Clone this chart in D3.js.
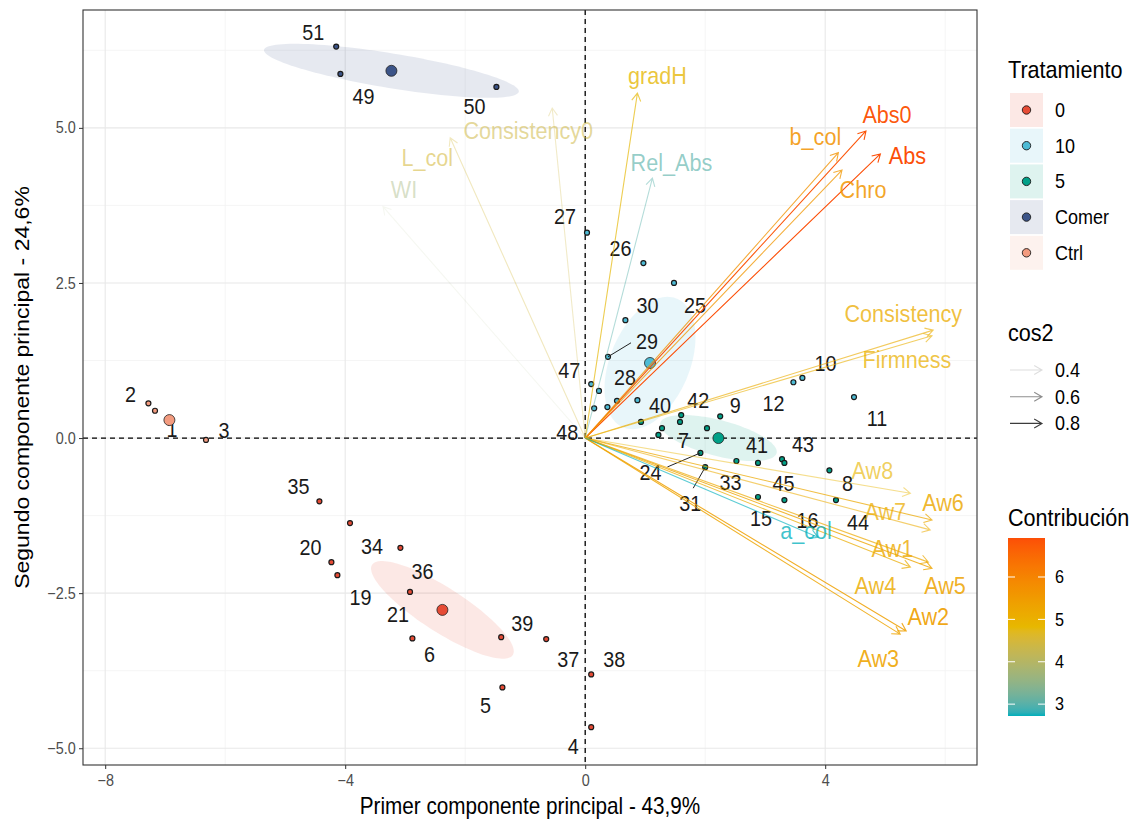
<!DOCTYPE html>
<html>
<head>
<meta charset="utf-8">
<script src="https://cdn.jsdelivr.net/npm/d3@7"></script>
<style>
  body { margin: 0; background: #fff; }
  text { font-family: "Liberation Sans", Arial, sans-serif; }
</style>
</head>
<body>
<svg id="chart" width="1145" height="822"></svg>
<script>
// ---------- data ----------
const groups      = ["0", "10", "5", "Comer", "Ctrl"];
const groupColors = ["#E64B35", "#4DBBD5", "#00A087", "#3C5488", "#F39B7F"];

// individuals: id, coordinates on PC1 / PC2, treatment
const indIds   = [1,2,3,4,5,6,7,8,9,10,11,12,13,14,15,16,17,18,19,20,21,22,23,24,25,26,27,28,29,30,31,32,33,34,35,36,37,38,39,40,41,42,43,44,45,46,47,48,49,50,51];
const indPC1   = [-7.17,-7.28,-6.32,0.10,-1.38,-2.88,1.22,4.07,2.25,3.62,4.48,3.47,0.23,0.37,2.88,3.32,0.87,1.28,-4.13,-4.23,-2.92,1.58,2.03,1.92,1.48,0.97,0.03,0.53,0.38,0.67,2.00,2.22,2.52,-3.92,-4.43,-3.08,-0.65,0.10,-1.40,0.93,2.88,1.60,3.28,4.18,3.32,1.08,0.10,0.15,-4.08,-1.48,-4.15];
const indPC2   = [0.44,0.56,-0.03,-4.66,-4.02,-3.23,0.05,-0.52,0.35,0.97,0.66,0.90,0.76,0.50,-0.95,-1.00,0.61,0.16,-2.21,-2.00,-2.48,0.26,0.16,-0.24,2.50,2.82,3.31,0.60,1.31,1.90,-0.47,0.00,-0.37,-1.37,-1.02,-1.77,-3.24,-3.81,-3.21,0.26,-0.40,0.37,-0.34,-1.00,-0.40,1.21,0.87,0.48,5.87,5.66,6.31];
const indGroup = ["Ctrl","Ctrl","Ctrl","0","0","0","5","5","5","10","10","10","10","10","5","5","10","5","0","0","0","5","5","5","10","10","10","10","10","10","5","5","5","0","0","0","0","0","0","5","5","5","5","5","5","10","10","10","Comer","Comer","Comer"];

// group centres (mean points) on PC1 / PC2
const centerPC1 = [-2.38, 1.08, 2.22, -3.23, -6.93];
const centerPC2 = [-2.77, 1.21, 0.00, 5.92, 0.29];
// concentration ellipses: semi-axes (PC units) and rotation (degrees)
const ellipseA     = [1.38, 1.13, 1.00, 2.15, 0];
const ellipseB     = [0.36, 0.66, 0.29, 0.28, 0];
const ellipseAngle = [-31.7, 66, -14, -9, 0];

// variables
const varNames   = ["Abs0","Abs","b_col","Chro","Consistency","Firmness","Aw8","Aw6","Aw7","Aw1","Aw5","Aw4","Aw2","Aw3","a_col","Rel_Abs","gradH","Consistency0","L_col","WI"];
const varPC1     = [4.68,4.92,4.22,4.28,5.80,5.78,5.42,5.78,5.75,5.72,5.78,5.42,5.35,5.25,3.88,1.12,0.87,-0.55,-2.25,-3.37];
const varPC2     = [4.95,4.58,4.60,4.32,1.74,1.65,-0.89,-1.32,-1.48,-2.00,-2.10,-2.08,-3.11,-3.16,-1.60,4.19,5.56,5.32,4.84,3.73];
const varContrib = [6.85,6.92,5.7,5.6,5.1,5.0,4.9,5.2,5.1,5.2,5.3,5.1,5.4,5.3,2.72,3.0,4.8,4.4,4.5,3.7];
const varCos2    = [0.94,0.95,0.81,0.80,0.72,0.70,0.60,0.78,0.68,0.76,0.82,0.78,0.86,0.84,0.72,0.60,0.76,0.50,0.52,0.38];

// axis ticks
const xTicks = [-8, -4, 0, 4];
const yTicks = [-5, -2.5, 0, 2.5, 5];
const xMinor = [-6, -2, 2, 6];
const yMinor = [-3.75, -1.25, 1.25, 3.75, 6.25];
const cos2Breaks = [0.4, 0.6, 0.8];
const contribBreaks = [3, 4, 5, 6];

// ---------- label placement (pixel offsets from the mark) ----------
const indLabelNudge = {
  1:[17,19], 2:[-18,-9], 3:[18,-10], 4:[-18,19], 5:[-17,18], 6:[17,16],
  7:[25,5], 8:[18,13], 9:[15,-11], 10:[23,-15], 11:[23,21], 12:[-20,21],
  15:[3,21], 16:[23,20], 19:[23,22], 20:[-21,-15], 21:[-12,22],
  24:[-50,19,-33,14], 25:[21,22], 26:[-23,-15], 27:[-22,-16], 28:[8,-24],
  29:[39,-15,23,-14], 30:[22,-15], 31:[-15,36,-12,21], 33:[-6,21],
  34:[22,23], 35:[-21,-15], 36:[22,23], 37:[22,20], 38:[23,-15], 39:[21,-14],
  40:[19,-17], 41:[-1,-18], 42:[17,-15], 43:[21,-15], 44:[22,22], 45:[-1,20],
  47:[-22,-14], 48:[-27,24], 49:[23,22], 50:[-22,19], 51:[-23,-14]
};
const varLabelNudge = {
  Abs0:[21,-16], Abs:[27,2], b_col:[-23,-16], Chro:[21,20], Consistency:[-30,-17],
  Firmness:[-25,24], Aw8:[-38,-23], Aw6:[11,-17], Aw7:[-45,-18], Aw1:[-36,-14],
  Aw5:[13,17], Aw4:[-35,18], Aw2:[22,-14], Aw3:[-22,24], a_col:[-12,-7],
  Rel_Abs:[19,-16], gradH:[20,-18], Consistency0:[-24,23], L_col:[-23,20], WI:[21,-17]
};

// ---------- setup ----------
const svg = d3.select("#chart");
const SX = 0.9;  // horizontal glyph compression
const panel = { l: 83, t: 10, r: 977, b: 765 };
const x = d3.scaleLinear().domain([-8.37, 6.53]).range([panel.l, panel.r]);
const y = d3.scaleLinear().domain([-5.27, 6.90]).range([panel.b, panel.t]);

const cMin = d3.min(varContrib), cMax = d3.max(varContrib);
const color = d3.scaleLinear()
  .domain([cMin, (cMin + cMax) / 2, cMax])
  .range(["#00AFBB", "#E7B800", "#FC4E07"])
  .interpolate(d3.interpolateLab);
const alpha = d3.scaleLinear().domain(d3.extent(varCos2)).range([0.1, 1]);
const labelAlpha = d3.scaleLinear().domain(d3.extent(varCos2)).range([0.42, 1]);
const gColor = d3.scaleOrdinal().domain(groups).range(groupColors);

function text(g, px, py, s, o = {}) {
  const rot = o.rotate ? ` rotate(${o.rotate}) scale(1,${SX})` : ` scale(${SX},1)`;
  return g.append("text")
    .attr("transform", `translate(${px},${py})` + rot)
    .attr("dy", o.dy ?? "0.35em")
    .attr("text-anchor", o.anchor || "middle")
    .attr("font-size", o.size || 20)
    .attr("fill", o.fill || "#000")
    .attr("fill-opacity", o.opacity ?? 1)
    .text(s);
}

function arrowPath(x1, y1, x2, y2, len) {
  const th = Math.atan2(y2 - y1, x2 - x1), w = Math.PI / 6;
  const ax = x2 - len * Math.cos(th - w), ay = y2 - len * Math.sin(th - w);
  const bx = x2 - len * Math.cos(th + w), by = y2 - len * Math.sin(th + w);
  return `M${x1},${y1}L${x2},${y2}M${ax},${ay}L${x2},${y2}L${bx},${by}`;
}

// ---------- panel ----------
svg.append("clipPath").attr("id", "clip").append("rect")
  .attr("x", panel.l).attr("y", panel.t)
  .attr("width", panel.r - panel.l).attr("height", panel.b - panel.t);
const plot = svg.append("g").attr("clip-path", "url(#clip)");

plot.selectAll(".vminor").data(xMinor).join("line")
  .attr("x1", d => x(d)).attr("x2", d => x(d)).attr("y1", panel.t).attr("y2", panel.b)
  .attr("stroke", "#f2f2f2").attr("stroke-width", 0.8);
plot.selectAll(".hminor").data(yMinor).join("line")
  .attr("y1", d => y(d)).attr("y2", d => y(d)).attr("x1", panel.l).attr("x2", panel.r)
  .attr("stroke", "#f2f2f2").attr("stroke-width", 0.8);
plot.selectAll(".vmajor").data(xTicks).join("line")
  .attr("x1", d => x(d)).attr("x2", d => x(d)).attr("y1", panel.t).attr("y2", panel.b)
  .attr("stroke", "#e8e8e8").attr("stroke-width", 1.1);
plot.selectAll(".hmajor").data(yTicks).join("line")
  .attr("y1", d => y(d)).attr("y2", d => y(d)).attr("x1", panel.l).attr("x2", panel.r)
  .attr("stroke", "#e8e8e8").attr("stroke-width", 1.1);

// ellipses
const ellipseLine = d3.line().x(d => x(d[0])).y(d => y(d[1])).curve(d3.curveLinearClosed);
groups.forEach((g, i) => {
  if (!ellipseA[i]) return;
  const th = ellipseAngle[i] * Math.PI / 180, pts = [];
  for (let k = 0; k < 120; k++) {
    const t = 2 * Math.PI * k / 120;
    const u = ellipseA[i] * Math.cos(t), v = ellipseB[i] * Math.sin(t);
    pts.push([centerPC1[i] + u * Math.cos(th) - v * Math.sin(th),
              centerPC2[i] + u * Math.sin(th) + v * Math.cos(th)]);
  }
  plot.append("path").attr("d", ellipseLine(pts))
    .attr("fill", groupColors[i]).attr("fill-opacity", 0.13).attr("stroke", "none");
});

// zero reference lines
plot.append("line").attr("x1", x(0)).attr("x2", x(0)).attr("y1", panel.t).attr("y2", panel.b)
  .attr("stroke", "#000").attr("stroke-width", 1.3).attr("stroke-dasharray", "5,4");
plot.append("line").attr("y1", y(0)).attr("y2", y(0)).attr("x1", panel.l).attr("x2", panel.r)
  .attr("stroke", "#000").attr("stroke-width", 1.3).attr("stroke-dasharray", "5,4");

// individuals
const inds = indIds.map((id, i) => ({ id, pc1: indPC1[i], pc2: indPC2[i], group: indGroup[i] }));
plot.selectAll(".ind").data(inds).join("circle")
  .attr("cx", d => x(d.pc1)).attr("cy", d => y(d.pc2)).attr("r", 2.5)
  .attr("fill", d => gColor(d.group)).attr("stroke", "#1a1a1a").attr("stroke-width", 1.2);

inds.forEach(d => {
  const n = indLabelNudge[d.id];
  if (!n) return;
  const px = x(d.pc1), py = y(d.pc2);
  if (n.length > 2) {
    plot.append("line").attr("x1", px).attr("y1", py)
      .attr("x2", px + n[2]).attr("y2", py + n[3])
      .attr("stroke", "#222").attr("stroke-width", 1);
  }
  text(plot, px + n[0], py + n[1], d.id, { size: 22, fill: "#1a1a1a" });
});

// group mean points
groups.forEach((g, i) => {
  plot.append("circle").attr("cx", x(centerPC1[i])).attr("cy", y(centerPC2[i])).attr("r", 5.5)
    .attr("fill", groupColors[i]).attr("stroke", "#222").attr("stroke-width", 0.8);
});

// variable arrows
varNames.forEach((v, i) => {
  const x2 = x(varPC1[i]), y2 = y(varPC2[i]);
  plot.append("path").attr("d", arrowPath(x(0), y(0), x2, y2, 9))
    .attr("fill", "none").attr("stroke", color(varContrib[i]))
    .attr("stroke-opacity", alpha(varCos2[i])).attr("stroke-width", 1.1);
});
varNames.forEach((v, i) => {
  const n = varLabelNudge[v];
  text(plot, x(varPC1[i]) + n[0], y(varPC2[i]) + n[1], v,
       { size: 24, fill: color(varContrib[i]), opacity: labelAlpha(varCos2[i]) });
});

// panel border
svg.append("rect").attr("x", panel.l).attr("y", panel.t)
  .attr("width", panel.r - panel.l).attr("height", panel.b - panel.t)
  .attr("fill", "none").attr("stroke", "#333").attr("stroke-width", 1.1);

// ---------- axes ----------
const fmtY = d3.format(".1f");
const xAxis = svg.append("g").attr("transform", `translate(0,${panel.b})`)
  .call(d3.axisBottom(x).tickValues(xTicks).tickSize(4).tickPadding(6).tickFormat(d3.format("d")));
const yAxis = svg.append("g").attr("transform", `translate(${panel.l},0)`)
  .call(d3.axisLeft(y).tickValues(yTicks).tickSize(4).tickPadding(4).tickFormat(fmtY));
[xAxis, yAxis].forEach(a => {
  a.select(".domain").remove();
  a.selectAll(".tick line").attr("stroke", "#333");
  a.selectAll(".tick text").attr("fill", "#4d4d4d").attr("font-size", 16)
    .attr("font-family", "Liberation Sans, Arial, sans-serif")
    .attr("transform", `scale(${SX},1)`);
});

text(svg, (panel.l + panel.r) / 2, 806, "Primer componente principal - 43,9%", { size: 23 });
text(svg, 22, (panel.t + panel.b) / 2, "Segundo componente principal - 24,6%", { size: 23, rotate: -90 });

// ---------- legends ----------
const lg = svg.append("g");
text(lg, 1008, 70, "Tratamiento", { size: 24, anchor: "start" });
groups.forEach((g, i) => {
  const cy = 110 + i * 35.7;
  lg.append("rect").attr("x", 1010).attr("y", cy - 17).attr("width", 33).attr("height", 34)
    .attr("fill", groupColors[i]).attr("fill-opacity", 0.13);
  lg.append("circle").attr("cx", 1026.5).attr("cy", cy).attr("r", 4.2)
    .attr("fill", groupColors[i]).attr("stroke", "#1a1a1a").attr("stroke-width", 0.9);
  text(lg, 1055, cy, g, { size: 20, anchor: "start" });
});

text(lg, 1008, 333, "cos2", { size: 24, anchor: "start" });
cos2Breaks.forEach((b, i) => {
  const cy = 370 + i * 26.7;
  lg.append("path").attr("d", arrowPath(1010, cy, 1042, cy, 9))
    .attr("fill", "none").attr("stroke", "#000").attr("stroke-opacity", alpha(b)).attr("stroke-width", 1.1);
  text(lg, 1055, cy, d3.format(".1f")(b), { size: 20, anchor: "start" });
});

text(lg, 1008, 518, "Contribución", { size: 24, anchor: "start" });
const cb = d3.scaleLinear().domain([cMin, cMax]).range([716, 538]);
const grad = svg.append("defs").append("linearGradient").attr("id", "cbar")
  .attr("x1", 0).attr("y1", 1).attr("x2", 0).attr("y2", 0);
d3.range(0, 1.0001, 0.02).forEach(t => {
  grad.append("stop").attr("offset", t).attr("stop-color", color(cMin + t * (cMax - cMin)));
});
lg.append("rect").attr("x", 1008).attr("y", 538).attr("width", 37).attr("height", 178)
  .attr("fill", "url(#cbar)");
contribBreaks.forEach(b => {
  const cy = cb(b);
  lg.append("line").attr("x1", 1008).attr("x2", 1015).attr("y1", cy).attr("y2", cy).attr("stroke", "#fff").attr("stroke-width", 1);
  lg.append("line").attr("x1", 1038).attr("x2", 1045).attr("y1", cy).attr("y2", cy).attr("stroke", "#fff").attr("stroke-width", 1);
  text(lg, 1055, cy, b, { size: 18, anchor: "start" });
});
</script>
</body>
</html>
